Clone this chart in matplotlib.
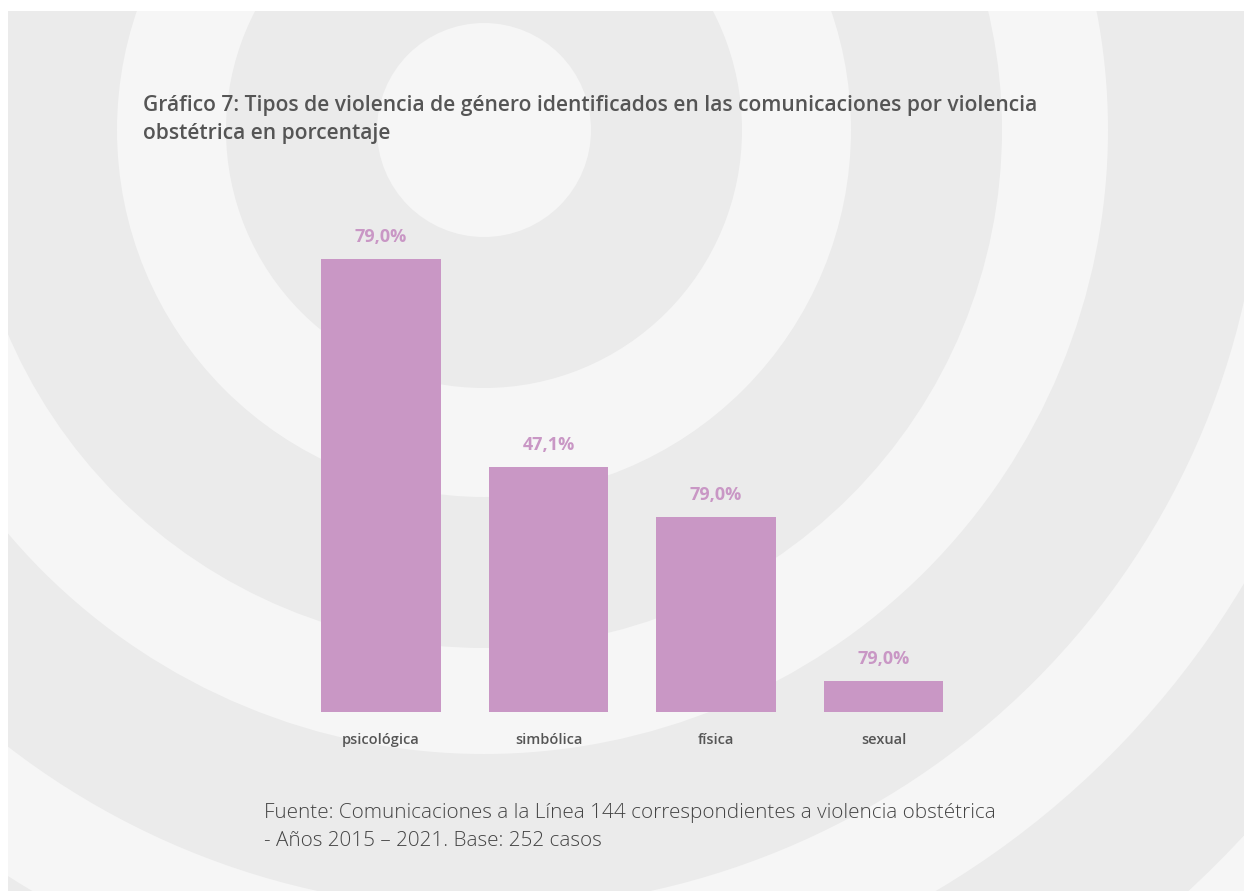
import matplotlib
matplotlib.use("Agg")
import matplotlib.pyplot as plt
from matplotlib.patches import Circle, Rectangle

# data
categories = ["psicológica", "simbólica", "física", "sexual"]
values = [79.0, 42.7, 34.0, 5.4]  # bar heights (percent)
value_labels = ["79,0%", "47,1%", "79,0%", "79,0%"]  # labels as printed

title = ("Gráfico 7: Tipos de violencia de género identificados en las comunicaciones por violencia\n"
         "obstétrica en porcentaje")
source = ("Fuente: Comunicaciones a la Línea 144 correspondientes a violencia obstétrica\n"
          "- Años 2015 – 2021. Base: 252 casos")

# colours
bar_color = "#c997c5"
light = "#f6f6f6"
gray = "#ebebeb"
text_color = "#555555"

W, H = 1244, 894
fig = plt.figure(figsize=(W / 100, H / 100), dpi=100)
fig.patch.set_facecolor("white")

# background with concentric rings, in pixel coords
bg = fig.add_axes([0, 0, 1, 1])
bg.set_xlim(0, W)
bg.set_ylim(H, 0)
bg.axis("off")
clip = Rectangle((8, 11), W - 8, 880, transform=bg.transData)
base = Rectangle((8, 11), W - 8, 880, facecolor=gray, edgecolor="none")
bg.add_patch(base)
center = (484, 130)
radii = [1143, 1037, 885, 779, 624, 518, 367, 258, 107]
for i, r in enumerate(radii):
    c = Circle(center, r, facecolor=light if i % 2 == 0 else gray, edgecolor="none")
    bg.add_patch(c)
    c.set_clip_path(clip)

# bar chart axes placed over the background
x0, x1 = 297.25, 967.25
y_base, y_top = 712, 200
ymax = (y_base - y_top) * 79.0 / 453
ax = fig.add_axes([x0 / W, 1 - y_base / H, (x1 - x0) / W, (y_base - y_top) / H])
ax.patch.set_alpha(0)
xs = range(len(categories))
ax.bar(xs, values, width=0.716, color=bar_color)
ax.set_xlim(-0.5, 3.5)
ax.set_ylim(0, ymax)
for s in ax.spines.values():
    s.set_visible(False)
ax.set_yticks([])
ax.set_xticks(list(xs))
ax.set_xticklabels(categories, fontsize=10.5, color=text_color, fontweight="semibold",
                   family="Open Sans")
ax.tick_params(axis="x", length=0, pad=15)

for x, v, lab in zip(xs, values, value_labels):
    ax.annotate(lab, (x, v), xytext=(0, 16), textcoords="offset points",
                ha="center", va="center", fontsize=13, fontweight="bold",
                color=bar_color, family="Open Sans")

fig.text(143 / W, 1 - 95 / H, title, fontsize=15.1, color=text_color,
         fontweight="semibold", family="Open Sans", va="top", linespacing=1.42)
fig.text(264 / W, 1 - 803 / H, source, fontsize=14.9, color="#444444",
         fontweight="light", family="Open Sans", va="top", linespacing=1.5)

fig.savefig("out.png", dpi=100, facecolor="white")
